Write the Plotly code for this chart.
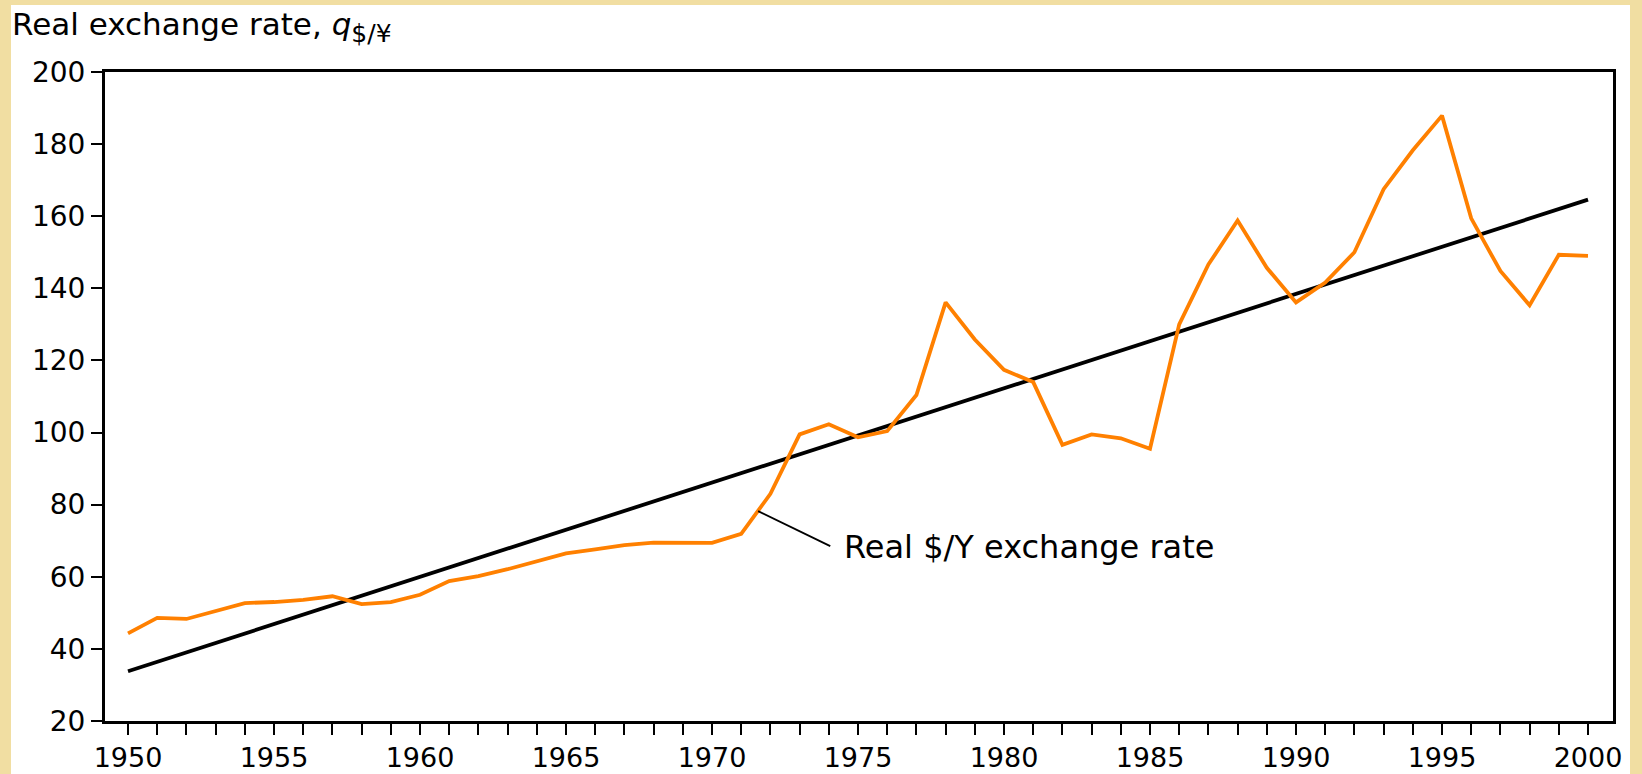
import plotly.graph_objects as go

years = list(range(1950, 2001))
real_rate = [44.3, 48.6, 48.3, 50.6, 52.7, 53.0, 53.6, 54.6, 52.4, 53.0,
             55.0, 58.8, 60.2, 62.1, 64.2, 66.5, 67.6, 68.8, 69.5, 69.5,
             69.4, 71.9, 83.0, 99.5, 102.3, 98.7, 100.4, 110.4, 136.1, 125.8,
             117.4, 114.0, 96.6, 99.5, 98.4, 95.5, 130.0, 146.6, 158.8, 145.7,
             136.1, 141.6, 150.0, 167.5, 178.3, 187.9, 159.4, 144.8, 135.3, 149.3,
             149.0]
trend_years = [1950, 2000]
trend_values = [33.8, 164.6]

y_ticks = [20, 40, 60, 80, 100, 120, 140, 160, 180, 200]
x_tick_labels = [str(y) if y % 5 == 0 else "" for y in years]

FONT = "DejaVu Sans, Arial, sans-serif"

fig = go.Figure()
fig.add_trace(go.Scatter(x=trend_years, y=trend_values, mode="lines",
                         line=dict(color="black", width=3.8), showlegend=False,
                         hoverinfo="skip"))
fig.add_trace(go.Scatter(x=years, y=real_rate, mode="lines",
                         line=dict(color="#FF8000", width=3.8), showlegend=False))

# white panel over the beige background
fig.add_shape(type="rect", xref="paper", yref="paper", layer="below",
              x0=(11 - 105) / 1508, x1=(1630 - 105) / 1508,
              y0=-(774 - 721) / 649 - 0.01, y1=1 + (72 - 5) / 649,
              fillcolor="white", line=dict(width=0))

# leader line for the label
fig.add_shape(type="line", xref="x", yref="y",
              x0=1971.58, y0=78.2, x1=1974.05, y1=68.5,
              line=dict(color="black", width=1.8))

fig.add_annotation(x=1974.45, y=68.2, xref="x", yref="y",
                   text="Real $/Y exchange rate", showarrow=False,
                   xanchor="left", yanchor="middle",
                   font=dict(size=32, color="black", family=FONT))

fig.add_annotation(x=(10 - 105) / 1508, y=1 + (72 - 50) / 649,
                   xref="paper", yref="paper",
                   text="Real exchange rate, <i>q</i><sub><span style=\"font-size:25px\">$/¥</span></sub>",
                   showarrow=False, xanchor="left", yanchor="bottom",
                   font=dict(size=31, color="black", family=FONT))

fig.update_layout(
    width=1642, height=774,
    margin=dict(l=105, r=29, t=72, b=53, autoexpand=False),
    paper_bgcolor="#F1DEA2",
    plot_bgcolor="white",
    font=dict(family=FONT, color="black"),
    xaxis=dict(range=[1949.212, 2000.856], tickmode="array",
               tickvals=years, ticktext=x_tick_labels, automargin=False,
               ticks="outside", ticklen=11, tickwidth=2, tickcolor="black",
               showline=True, linecolor="black", linewidth=3, mirror=True,
               showgrid=False, zeroline=False,
               tickfont=dict(size=27, family=FONT, color="black")),
    yaxis=dict(range=[20, 200], tickmode="array", tickvals=y_ticks,
               automargin=False,
               ticks="outside", ticklen=11, tickwidth=2, tickcolor="black",
               showline=True, linecolor="black", linewidth=3, mirror=True,
               showgrid=False, zeroline=False,
               tickfont=dict(size=28, family=FONT, color="black")),
)

fig.write_html("out.html",
               config={"displayModeBar": False},
               post_script="document.body.style.margin='0';"
                           "document.body.style.padding='0';"
                           "document.body.style.overflow='hidden';")
